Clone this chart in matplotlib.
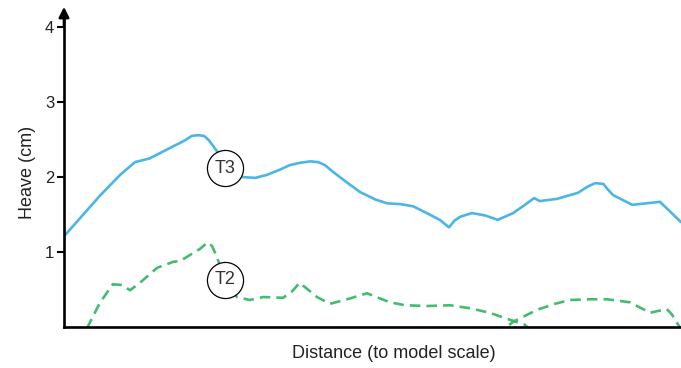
import matplotlib
matplotlib.use("Agg")
import matplotlib.pyplot as plt

plt.rcParams['font.family'] = ['Liberation Sans', 'DejaVu Sans']

# T3 (blue, solid)
t3_x = [0, 5.8, 9.1, 11.5, 13.9, 17.2, 19.6, 20.7, 21.7, 22.7, 23.5, 24.3, 25.3, 27.2, 29.0, 31.0, 32.9,
        35.0, 36.6, 38.2, 39.9, 41.2, 42.3, 43.6, 46.0, 48.0, 50.5, 52.4, 54.5, 56.6, 58.8, 60.9, 62.4,
        63.3, 64.2, 66.1, 68.2, 70.3, 72.8, 74.7, 76.2, 77.1, 79.9, 83.3, 84.8, 86.1, 87.4, 88.2, 89.0,
        92.1, 96.6, 100]
t3_y = [1.21, 1.75, 2.03, 2.20, 2.25, 2.39, 2.49, 2.55, 2.56, 2.55, 2.49, 2.40, 2.29, 2.09, 2.00, 1.99, 2.03,
        2.10, 2.16, 2.19, 2.21, 2.20, 2.16, 2.07, 1.92, 1.80, 1.70, 1.65, 1.64, 1.61, 1.52, 1.43, 1.33,
        1.42, 1.47, 1.52, 1.49, 1.43, 1.52, 1.63, 1.72, 1.68, 1.71, 1.79, 1.87, 1.92, 1.91, 1.83, 1.76,
        1.63, 1.67, 1.40]

# T2 (green, dashed)
t2_x = [3.7, 5.8, 7.9, 9.4, 10.7, 12.3, 15.1, 17.7, 18.8, 22.0, 23.3, 24.0, 24.8, 26.1, 28.0,
        30.1, 32.3, 35.5, 36.9, 38.2, 41.0, 43.1, 45.5, 49.1, 52.8, 55.3, 58.8, 62.6, 65.8,
        69.0, 71.8, 74.7, 75.5, 70.7, 72.8, 76.7, 79.6, 82.0, 85.3, 88.0, 91.7, 95.0, 97.7,
        98.5, 100]
t2_y = [-0.02, 0.32, 0.57, 0.56, 0.49, 0.59, 0.79, 0.87, 0.88, 1.04, 1.13, 1.08, 0.93, 0.63, 0.40,
        0.36, 0.40, 0.39, 0.47, 0.59, 0.40, 0.31, 0.36, 0.45, 0.33, 0.29, 0.28, 0.29, 0.25,
        0.19, 0.11, 0.03, -0.04, -0.07, 0.07, 0.23, 0.31, 0.36, 0.37, 0.37, 0.33, 0.19, 0.24,
        0.17, -0.03]

yticks = [1, 2, 3, 4]
labels = ["T3", "T2"]
label_x = [26.1, 26.1]
label_y = [2.12, 0.63]

blue = "#4cb5e8"
green = "#45bb72"

fig = plt.figure(figsize=(6.81, 3.68), dpi=100)
ax = fig.add_axes([64/681, 41/368, 617/681, 317/368])

ax.plot(t3_x, t3_y, color=blue, lw=1.9, solid_capstyle='round', solid_joinstyle='round', zorder=2)
ax.plot(t2_x, t2_y, color=green, lw=1.9, linestyle=(0, (4, 2.3)), dash_joinstyle='round', zorder=2)

for lx, ly, lab in zip(label_x, label_y, labels):
    ax.plot([lx], [ly], marker='o', ms=26, mfc='white', mec='black', mew=0.9, zorder=4)
    ax.text(lx, ly, lab, ha='center', va='center', fontsize=13, color='#333333', zorder=5)

ax.set_xlim(0, 100)
ax.set_ylim(0, 4.23)
ax.set_yticks(yticks)
ax.set_yticklabels([str(t) for t in yticks], fontsize=12, color='#222222')
ax.set_xticks([])
ax.tick_params(axis='y', direction='out', length=5, width=1.5, pad=2)
for s in ['top', 'right']:
    ax.spines[s].set_visible(False)
for s in ['left', 'bottom']:
    ax.spines[s].set_linewidth(1.9)
ax.spines['left'].set_bounds(0, 4.1)

# arrow head at the top of the y axis
ax.annotate('', xy=(0, 1.01), xytext=(0, 0.95), xycoords='axes fraction',
            arrowprops=dict(arrowstyle='-|>', color='black', lw=1.9,
                            mutation_scale=15, shrinkA=0, shrinkB=0),
            annotation_clip=False)

ax.set_ylabel("Heave (cm)", fontsize=13, color='#222222')
ax.yaxis.set_label_coords(-0.045, 0.487)
ax.set_xlabel("Distance (to model scale)", fontsize=13, color='#222222')
ax.xaxis.set_label_coords(0.535, -0.058)

fig.savefig("out.png", dpi=100)
